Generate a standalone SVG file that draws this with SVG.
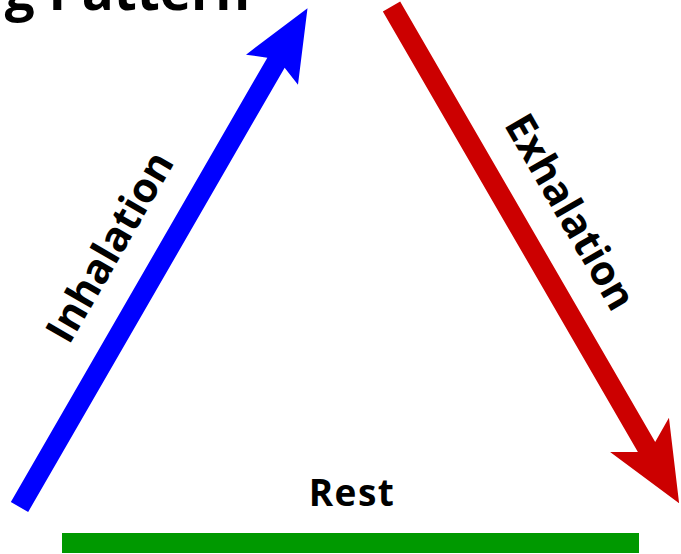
<svg xmlns="http://www.w3.org/2000/svg" width="681" height="554" viewBox="0 0 681 554">
  <style>
    .label { font-family: "Open Sans", "Noto Sans", "DejaVu Sans", sans-serif; font-weight: 700; fill: #000; }
    .title { font-family: "Open Sans", "Noto Sans", "DejaVu Sans", sans-serif; font-weight: 700; fill: #000; }
  </style>
  <rect width="681" height="554" fill="#ffffff"/>

  <!-- heading, running off the top edge -->
  <g id="title">
    <text class="title" x="250" y="10" font-size="53" text-anchor="end">g Pattern</text>
  </g>

  <g id="connectors">
    <!-- inhalation arrow, drawn along +x then rotated up the left side -->
    <g id="inhalation-arrow" transform="translate(19.5 507) rotate(-60)">
      <polygon fill="#0000ff" points="0,-10 513,-10 505,-30 576,0 505,30 513,10 0,10"/>
    </g>
    <!-- exhalation arrow, down the right side -->
    <g id="exhalation-arrow" transform="translate(391.5 6.5) rotate(59.93)">
      <polygon fill="#cc0000" points="0,-10 509,-10 495,-34 574,0 495,34 509,10 0,10"/>
    </g>
    <!-- rest bar along the bottom -->
    <g id="rest-bar">
      <rect x="62" y="533" width="577" height="20" fill="#009900"/>
    </g>
  </g>

  <g id="inhalation-label">
    <text class="label" font-size="41" text-anchor="middle" transform="translate(122 254) rotate(-60)">Inhalation</text>
  </g>
  <g id="exhalation-label">
    <text class="label" font-size="41" text-anchor="middle" transform="translate(558 219) rotate(60)">Exhalation</text>
  </g>
  <g id="rest-label">
    <text class="label" font-size="37" letter-spacing="1.5" x="352" y="506" text-anchor="middle">Rest</text>
  </g>
</svg>
